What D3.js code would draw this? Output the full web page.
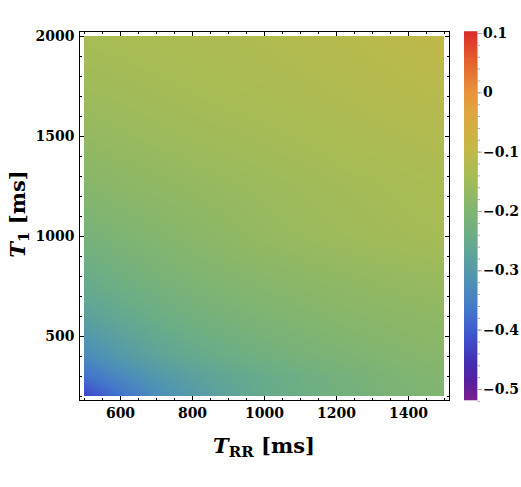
<!DOCTYPE html>
<html>
<head>
<meta charset="utf-8">
<script src="https://cdn.jsdelivr.net/npm/d3@7"></script>
<style>
  body { margin: 0; background: #fff; }
  svg { display: block; }
  text { font-family: 'DejaVu Serif', serif; font-weight: bold; }
</style>
</head>
<body>
<svg id="chart"></svg>
<script>
// grid: columns are T_RR, rows are T_1 (bottom to top)
const trr = [500, 600, 700, 800, 900, 1000, 1100, 1200, 1300, 1400, 1500]
const t1 = [200, 300, 400, 600, 800, 1000, 1250, 1500, 1750, 2000]
const values = [
  [-0.430, -0.375, -0.330, -0.298, -0.273, -0.253, -0.238, -0.226, -0.216, -0.207, -0.200],
  [-0.375, -0.338, -0.306, -0.282, -0.263, -0.248, -0.235, -0.223, -0.212, -0.203, -0.195],
  [-0.335, -0.300, -0.274, -0.255, -0.240, -0.228, -0.217, -0.208, -0.200, -0.193, -0.187],
  [-0.280, -0.258, -0.240, -0.226, -0.214, -0.205, -0.197, -0.190, -0.184, -0.179, -0.175],
  [-0.245, -0.228, -0.214, -0.203, -0.194, -0.186, -0.179, -0.173, -0.168, -0.163, -0.159],
  [-0.218, -0.205, -0.195, -0.185, -0.175, -0.166, -0.160, -0.154, -0.149, -0.145, -0.141],
  [-0.190, -0.181, -0.174, -0.168, -0.162, -0.157, -0.152, -0.147, -0.143, -0.139, -0.135],
  [-0.168, -0.162, -0.157, -0.152, -0.148, -0.144, -0.140, -0.135, -0.131, -0.127, -0.123],
  [-0.152, -0.148, -0.144, -0.140, -0.136, -0.133, -0.129, -0.125, -0.120, -0.116, -0.111],
  [-0.140, -0.137, -0.134, -0.131, -0.128, -0.125, -0.121, -0.117, -0.112, -0.106, -0.100]
]

const xTicks = [600, 800, 1000, 1200, 1400]
const yTicks = [500, 1000, 1500, 2000]
const barTicks = [0.1, 0, -0.1, -0.2, -0.3, -0.4, -0.5]

// colour bar stops (value, colour)
const stopValues = [-0.519, -0.487, -0.453, -0.41, -0.369, -0.318, -0.285, -0.24, -0.19, -0.14, -0.094, -0.038, 0.002, 0.053, 0.103]
const stopColors = ['#7a1f8e', '#56219f', '#4430b3', '#3f55ce', '#4377cb', '#4e93b4', '#5a9fa0', '#6bae86', '#86b66b', '#a7bc55', '#c4b847', '#dda83f', '#e8923a', '#e4602f', '#dc2a28']

const svg = d3.select('#chart').attr('width', 521).attr('height', 487)

const x = d3.scaleLinear().domain([500, 1500]).range([84, 444])
const y = d3.scaleLinear().domain([200, 2000]).range([396, 36])
const frame = { left: 79, right: 449, top: 31, bottom: 400 }

const color = d3.scaleLinear().domain(stopValues).range(stopColors)
  .interpolate(d3.interpolateRgb).clamp(true)

// bilinear lookup in the read grid
const lookup = (a, b) => {
  let i = Math.min(Math.max(d3.bisectRight(trr, a) - 1, 0), trr.length - 2)
  let j = Math.min(Math.max(d3.bisectRight(t1, b) - 1, 0), t1.length - 2)
  const fx = (a - trr[i]) / (trr[i + 1] - trr[i])
  const fy = (b - t1[j]) / (t1[j + 1] - t1[j])
  const v00 = values[j][i], v10 = values[j][i + 1]
  const v01 = values[j + 1][i], v11 = values[j + 1][i + 1]
  return (v00 * (1 - fx) + v10 * fx) * (1 - fy) + (v01 * (1 - fx) + v11 * fx) * fy
}

const w = Math.round(x(1500) - x(500))
const h = Math.round(y(200) - y(2000))
const canvas = document.createElement('canvas')
canvas.width = w
canvas.height = h
const ctx = canvas.getContext('2d')
const img = ctx.createImageData(w, h)
for (let py = 0; py < h; py++) {
  const b = y.invert(y(2000) + py + 0.5)
  for (let px = 0; px < w; px++) {
    const a = x.invert(x(500) + px + 0.5)
    const c = d3.rgb(color(lookup(a, b)))
    const k = (py * w + px) * 4
    img.data[k] = c.r
    img.data[k + 1] = c.g
    img.data[k + 2] = c.b
    img.data[k + 3] = 255
  }
}
ctx.putImageData(img, 0, 0)

svg.append('image')
  .attr('x', x(500)).attr('y', y(2000))
  .attr('width', w).attr('height', h)
  .attr('href', canvas.toDataURL())

// frame
svg.append('rect')
  .attr('x', frame.left + 0.5).attr('y', frame.top + 0.5)
  .attr('width', frame.right - frame.left).attr('height', frame.bottom - frame.top)
  .attr('fill', 'none').attr('stroke', '#000').attr('stroke-width', 1)

const xMinor = d3.range(500, 1501, 50)
const yMinor = d3.range(200, 2001, 100)

const addTicks = (axis, transform, minor, major, labels) => {
  const gMinor = svg.append('g').attr('transform', transform)
    .call(axis.tickValues(minor).tickSize(-2.5).tickFormat(''))
  gMinor.select('.domain').remove()
  const g = svg.append('g').attr('transform', transform)
    .call(axis.tickValues(major).tickSize(-4.5).tickFormat(labels ? d3.format('d') : ''))
  g.select('.domain').remove()
  g.selectAll('text').attr('font-size', 14).attr('font-family', 'DejaVu Serif').attr('font-weight', 'bold').attr('fill', '#000')
  return g
}

addTicks(d3.axisBottom(x).tickPadding(8), `translate(0,${frame.bottom + 0.5})`, xMinor, xTicks, true)
addTicks(d3.axisTop(x), `translate(0,${frame.top + 0.5})`, xMinor, xTicks, false)
addTicks(d3.axisLeft(y).tickPadding(5), `translate(${frame.left + 0.5},0)`, yMinor, yTicks, true)
addTicks(d3.axisRight(y), `translate(${frame.right + 0.5},0)`, yMinor, yTicks, false)

// axis titles
const xt = svg.append('text').attr('x', 264).attr('y', 453)
  .attr('text-anchor', 'middle').attr('font-size', 21)
xt.append('tspan').attr('font-style', 'italic').text('T')
xt.append('tspan').attr('font-size', 15).attr('dy', 4).text('RR')
xt.append('tspan').attr('dy', -4).text(' [ms]')

const yt = svg.append('text').attr('transform', 'translate(25,214) rotate(-90)')
  .attr('text-anchor', 'middle').attr('font-size', 21)
yt.append('tspan').attr('font-style', 'italic').text('T')
yt.append('tspan').attr('font-size', 15).attr('dy', 4).text('1')
yt.append('tspan').attr('dy', -4).text(' [ms]')

// colour bar
const bar = d3.scaleLinear().domain([0.1, -0.5]).range([33, 389])
const barX = 464, barW = 13.5
const grad = svg.append('defs').append('linearGradient')
  .attr('id', 'bargrad').attr('x1', 0).attr('x2', 0)
  .attr('y1', 1).attr('y2', 0)
const vmin = stopValues[0], vmax = stopValues[stopValues.length - 1]
stopValues.forEach((v, i) => {
  grad.append('stop')
    .attr('offset', (v - vmin) / (vmax - vmin))
    .attr('stop-color', stopColors[i])
})
svg.append('rect')
  .attr('x', barX).attr('y', bar(vmax))
  .attr('width', barW).attr('height', bar(vmin) - bar(vmax))
  .attr('fill', 'url(#bargrad)')
svg.append('line')
  .attr('x1', barX + barW).attr('x2', barX + barW)
  .attr('y1', bar(vmax)).attr('y2', bar(vmin))
  .attr('stroke', '#bbb').attr('stroke-width', 1)

const barMinor = d3.range(-26, 6).map(i => i * 0.02)
const gbMinor = svg.append('g').attr('transform', `translate(${barX + barW},0)`)
  .call(d3.axisRight(bar).tickValues(barMinor).tickSize(2.5).tickFormat(''))
gbMinor.select('.domain').remove()
gbMinor.selectAll('line').attr('stroke', '#aaa')
const gb = svg.append('g').attr('transform', `translate(${barX + barW},0)`)
  .call(d3.axisRight(bar).tickValues(barTicks).tickSize(4.5).tickPadding(1)
    .tickFormat(d => d === 0 ? '0' : d3.format('.1f')(d)))
gb.select('.domain').remove()
gb.selectAll('line').attr('stroke', '#aaa')
gb.selectAll('text').attr('font-size', 14).attr('font-family', 'DejaVu Serif').attr('font-weight', 'bold').attr('fill', '#000')
</script>
</body>
</html>
